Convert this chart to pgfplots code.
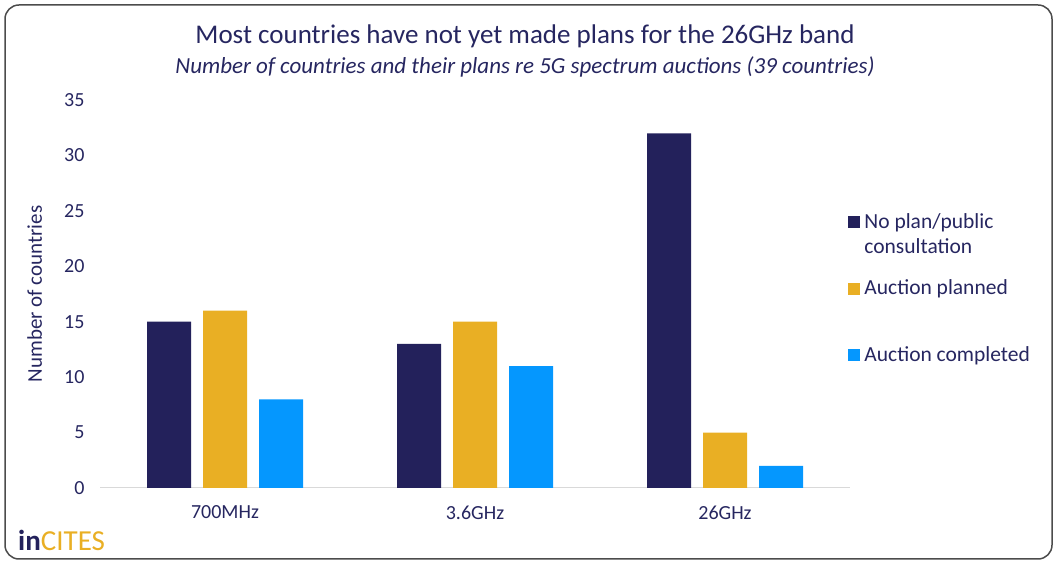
\documentclass[border=0pt]{standalone}
\usepackage{fontspec}
\setmainfont{Carlito}
\usepackage{pgfplots}
\pgfplotsset{compat=1.18}
\definecolor{navy}{RGB}{35,33,91}
\definecolor{gold}{RGB}{233,175,36}
\definecolor{sky}{RGB}{5,151,254}
\definecolor{txt}{RGB}{38,38,96}
\begin{document}
\begin{tikzpicture}[x=1pt,y=1pt]
\useasboundingbox (0,0) rectangle (1055,562);
\draw[line width=1.5pt, color=black!70, rounded corners=14pt] (5,3) rectangle (1052,557);
\node[txt, font=\fontsize{27}{31}\selectfont] at (525,526) {Most countries have not yet made plans for the 26GHz band};
\node[txt, font=\fontsize{23}{27}\selectfont\itshape] at (525,495) {Number of countries and their plans re 5G spectrum auctions (39 countries)};
\node[anchor=base west, inner sep=0pt, font=\fontsize{29}{33}\selectfont] at (18,11) {\textcolor{navy}{\bfseries in}\textcolor{gold}{CITES}};
\begin{axis}[at={(100pt,74pt)}, anchor=south west, scale only axis,
  width=750pt, height=388pt,
  ybar=12pt, bar width=44pt,
  xmin=-0.5, xmax=2.5, ymin=0, ymax=35, ytick={0,5,...,35},
  xtick=data, xticklabels={700MHz,3.6GHz,26GHz},
  major tick length=0pt,
  axis x line*=bottom, axis y line*=left,
  x axis line style={draw=black!15, line width=1pt},
  y axis line style={draw=none},
  /pgf/number format/assume math mode=true,
  ticklabel style={font=\fontsize{20}{24}\selectfont, text=txt},
  yticklabel style={xshift=-12pt},
  xticklabel style={yshift=-14pt},
  ylabel={Number of countries},
  ylabel style={at={(axis description cs:-0.087,0.5)}, anchor=center, font=\fontsize{21}{25}\selectfont, text=txt},
  legend style={at={(0.997,0.714)}, anchor=north west, draw=none, fill=none, inner sep=0pt,
     row sep=20pt, column sep=2.5pt, font=\fontsize{21.5}{25}\selectfont, text=txt,
     nodes={inner sep=2pt, anchor=base west}},
  legend image code/.code={\fill[#1] (0pt,0pt) rectangle (12pt,12pt);},
]
\addplot[fill=navy, draw=none] coordinates {(0,15) (1,13) (2,32)};
\addplot[fill=gold, draw=none] coordinates {(0,16) (1,15) (2,5)};
\addplot[fill=sky, draw=none] coordinates {(0,8) (1,11) (2,2)};
\addlegendentry{\parbox[t]{180pt}{No plan/public\\consultation}}
\addlegendentry{\rule{0pt}{41pt}Auction planned}
\addlegendentry{\rule{0pt}{41pt}Auction completed}
\end{axis}
\end{tikzpicture}
\end{document}
